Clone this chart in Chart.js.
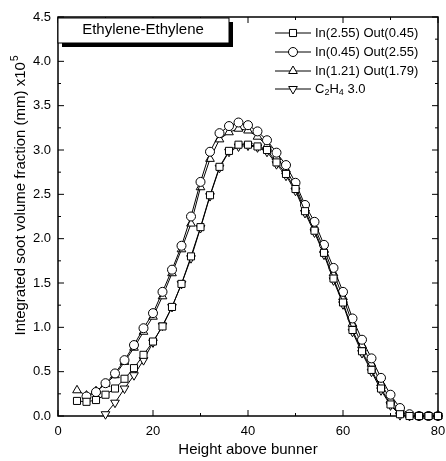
<!DOCTYPE html>
<html>
<head>
<meta charset="utf-8">
<script src="https://cdn.jsdelivr.net/npm/chart.js@4.4.1/dist/chart.umd.min.js"></script>
<style>
  html, body { margin: 0; padding: 0; background: #fff; }
  #wrap { width: 446px; height: 461px; }
</style>
</head>
<body>
<div id="wrap"><canvas id="soot" width="446" height="461"></canvas></div>
<script>
// height above burner (mm)
const heights = [4,6,8,10,12,14,16,18,20,22,24,26,28,30,32,34,36,38,40,42,44,46,48,50,52,54,56,58,60,62,64,66,68,70,72,74,76,78,80];

// integrated soot volume fraction x10^5
const in255out045 = [0.17,0.16,0.18,0.24,0.31,0.42,0.54,0.69,0.84,1.01,1.23,1.49,1.80,2.13,2.49,2.81,2.99,3.06,3.06,3.04,3.00,2.86,2.73,2.56,2.31,2.09,1.84,1.55,1.28,0.97,0.73,0.52,0.31,0.13,0.02,0,0,0,0];
const in045out255 = [null,0.22,0.27,0.37,0.48,0.63,0.80,0.99,1.16,1.40,1.65,1.92,2.25,2.64,2.98,3.19,3.27,3.31,3.28,3.21,3.11,2.97,2.83,2.63,2.38,2.19,1.93,1.67,1.40,1.10,0.86,0.65,0.43,0.24,0.09,0.02,0,0,0];
const in121out179 = [0.29,0.23,0.28,0.36,0.46,0.61,0.77,0.95,1.12,1.35,1.61,1.88,2.17,2.58,2.90,3.12,3.20,3.24,3.22,3.15,3.05,2.92,2.78,2.59,2.34,2.13,1.88,1.61,1.34,1.04,0.80,0.59,0.37,0.18,0.05,0.01,0,0,0];
const c2h4only = [null,null,null,0.02,0.15,0.31,0.46,0.63,0.83,1.02,1.23,1.49,1.78,2.12,2.48,2.80,2.98,3.04,3.05,3.03,2.98,2.84,2.71,2.54,2.29,2.07,1.82,1.53,1.26,0.95,0.71,0.50,0.29,0.12,0.01,0,0,0,0];

const seriesLabels = ['In(2.55) Out(0.45)', 'In(0.45) Out(2.55)', 'In(1.21) Out(1.79)', 'C_2H_4 3.0'];
const xTicks = [0, 20, 40, 60, 80];
const yTicks = [0, 0.5, 1.0, 1.5, 2.0, 2.5, 3.0, 3.5, 4.0, 4.5];

const FONT = "'Liberation Sans', Arial, sans-serif";

function pts(vals) {
  return heights.map((h, i) => ({ x: h, y: vals[i] }));
}

function ds(label, vals, style, rot, r) {
  return {
    label, data: pts(vals),
    borderColor: '#000', borderWidth: 1, backgroundColor: '#fff',
    pointStyle: style, pointRotation: rot, pointRadius: r,
    pointBorderColor: '#000', pointBackgroundColor: '#fff', pointBorderWidth: 1,
    tension: 0, clip: false, spanGaps: false
  };
}

// text with _x subscripts
function richText(ctx, str, x, y, size) {
  let cx = x;
  for (let i = 0; i < str.length; i++) {
    if (str[i] === '_' && i + 1 < str.length) {
      ctx.font = (size - 4) + 'px ' + FONT;
      ctx.fillText(str[i + 1], cx, y + 4);
      cx += ctx.measureText(str[i + 1]).width;
      i++;
    } else {
      ctx.font = size + 'px ' + FONT;
      ctx.fillText(str[i], cx, y);
      cx += ctx.measureText(str[i]).width;
    }
  }
}

const framePlugin = {
  id: 'frame',
  beforeDatasetsDraw(chart) {
    const { ctx, chartArea: a, scales: { x, y } } = chart;
    ctx.save();
    ctx.strokeStyle = '#000';
    ctx.lineWidth = 1.5;
    ctx.strokeRect(a.left, a.top, a.right - a.left, a.bottom - a.top);
    ctx.lineWidth = 1;
    ctx.beginPath();
    for (let v = 0; v <= 80; v += 10) {
      const px = x.getPixelForValue(v);
      const len = v % 20 === 0 ? 6 : 3;
      ctx.moveTo(px, a.bottom); ctx.lineTo(px, a.bottom - len);
      ctx.moveTo(px, a.top); ctx.lineTo(px, a.top + len);
    }
    for (let k = 0; k <= 18; k++) {
      const py = y.getPixelForValue(k * 0.25);
      const len = k % 2 === 0 ? 6 : 3;
      ctx.moveTo(a.left, py); ctx.lineTo(a.left + len, py);
      ctx.moveTo(a.right, py); ctx.lineTo(a.right - len, py);
    }
    ctx.stroke();
    ctx.restore();
  },
  afterDraw(chart) {
    const { ctx, chartArea: a } = chart;
    ctx.save();
    // title box with drop shadow
    ctx.fillStyle = '#000';
    ctx.fillRect(62, 22, 171, 25);
    ctx.fillStyle = '#fff';
    ctx.fillRect(58, 18, 171, 25);
    ctx.strokeStyle = '#000';
    ctx.lineWidth = 1;
    ctx.strokeRect(58, 18, 171, 25);
    ctx.fillStyle = '#000';
    ctx.font = '15px ' + FONT;
    ctx.textAlign = 'center';
    ctx.textBaseline = 'middle';
    ctx.fillText('Ethylene-Ethylene', 143, 30);

    // legend
    const rows = [33, 52, 71, 89];
    chart.data.datasets.forEach((d, i) => {
      const yy = rows[i];
      ctx.strokeStyle = '#000';
      ctx.lineWidth = 1;
      ctx.beginPath();
      ctx.moveTo(275, yy); ctx.lineTo(311, yy);
      ctx.stroke();
      ctx.fillStyle = '#fff';
      Chart.helpers.drawPoint(ctx, { pointStyle: d.pointStyle, rotation: d.pointRotation, radius: d.pointRadius, borderWidth: 1 }, 293, yy);
      ctx.fillStyle = '#000';
      ctx.textAlign = 'left';
      ctx.textBaseline = 'middle';
      richText(ctx, seriesLabels[i], 315, yy, 13);
    });

    // axis titles
    ctx.fillStyle = '#000';
    ctx.textAlign = 'center';
    ctx.textBaseline = 'middle';
    ctx.font = '15px ' + FONT;
    ctx.fillText('Height above bunner', (a.left + a.right) / 2, 450);

    ctx.translate(21, 196);
    ctx.rotate(-Math.PI / 2);
    const main = 'Integrated soot volume fraction (mm) x10';
    ctx.font = '15px ' + FONT;
    const w1 = ctx.measureText(main).width;
    ctx.font = '10px ' + FONT;
    const w2 = ctx.measureText('5').width;
    const start = -(w1 + w2) / 2;
    ctx.textAlign = 'left';
    ctx.font = '15px ' + FONT;
    ctx.fillText(main, start, 0);
    ctx.font = '10px ' + FONT;
    ctx.fillText('5', start + w1 + 1, -6);
    ctx.restore();
  }
};

new Chart(document.getElementById('soot'), {
  type: 'line',
  data: {
    datasets: [
      ds(seriesLabels[0], in255out045, 'rect', 0, 5),
      ds(seriesLabels[1], in045out255, 'circle', 0, 4.5),
      ds(seriesLabels[2], in121out179, 'triangle', 0, 5),
      ds(seriesLabels[3], c2h4only, 'triangle', 180, 5)
    ]
  },
  options: {
    responsive: false,
    animation: false,
    layout: { padding: { top: 17, right: 0, left: 0, bottom: 0 } },
    plugins: { legend: { display: false }, tooltip: { enabled: false } },
    scales: {
      x: {
        type: 'linear', min: 0, max: 80,
        afterBuildTicks: s => { s.ticks = xTicks.map(v => ({ value: v })); },
        ticks: { color: '#000', font: { size: 13, family: FONT }, padding: 8, maxRotation: 0 },
        grid: { display: false, drawTicks: false },
        border: { display: false },
        afterFit: s => { s.height = 45; s.paddingRight = 8; }
      },
      y: {
        min: 0, max: 4.5,
        afterBuildTicks: s => { s.ticks = yTicks.map(v => ({ value: v })); },
        ticks: { color: '#000', font: { size: 13, family: FONT }, padding: 7, callback: v => v.toFixed(1) },
        grid: { display: false, drawTicks: false },
        border: { display: false },
        afterFit: s => { s.width = 58; }
      }
    }
  },
  plugins: [framePlugin]
});
</script>
</body>
</html>
